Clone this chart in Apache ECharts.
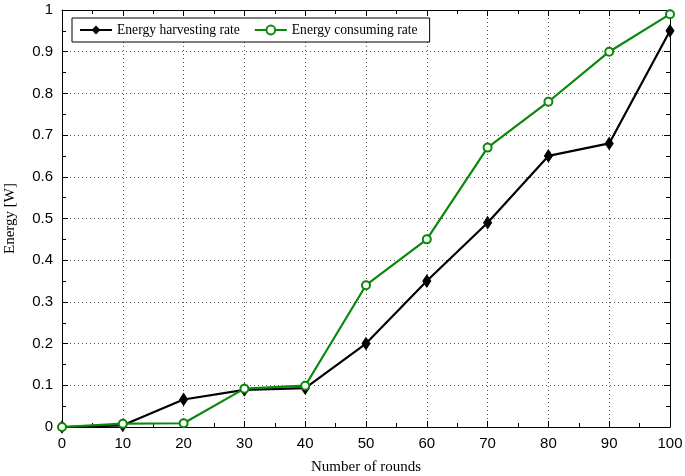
<!DOCTYPE html>
<html><head><meta charset="utf-8">
<script src="https://cdn.jsdelivr.net/npm/echarts@6/dist/echarts.min.js"></script>
<style>html,body{margin:0;padding:0;background:#fff}#c{width:685px;height:476px}</style>
</head><body><div id="c"></div>
<script>
const rounds = [0,10,20,30,40,50,60,70,80,90,100];
const harvesting = [0,0.004,0.066,0.089,0.093,0.2,0.35,0.49,0.65,0.68,0.95];
const consuming = [0,0.008,0.009,0.092,0.099,0.34,0.45,0.67,0.78,0.9,0.99];
const seriesNames = ['Energy harvesting rate','Energy consuming rate'];
const xTitle = 'Number of rounds';
const yTitle = 'Energy [W]';

const chart = echarts.init(document.getElementById('c'));
const lblFont = {fontFamily:'Liberation Sans', fontSize:15, color:'#000'};
const serif = 'Liberation Serif';
const axisCommon = {
  axisLine:{show:true,onZero:false,lineStyle:{color:'#000',width:1}},
  axisTick:{show:true,inside:true,length:6,lineStyle:{color:'#000'}},
  minorTick:{show:true,splitNumber:2,length:4,lineStyle:{color:'#000'}},
};
const green = '#0b870b';
chart.setOption({
  animation:false,
  grid:{left:62,right:15,top:10,bottom:49,show:false,containLabel:false,outerBoundsMode:'none'},
  legend:{
    left:72, top:18, orient:'horizontal',
    data:seriesNames,
    backgroundColor:'#fff', borderColor:'#000', borderWidth:1, borderRadius:0,
    padding:[5,12,5,7], itemGap:14, itemWidth:32, itemHeight:11,
    textStyle:{fontFamily:serif,fontSize:13.6,color:'#000'}
  },
  xAxis:[
    Object.assign({type:'value',min:0,max:100,interval:10,position:'bottom',
      name:xTitle,nameLocation:'middle',nameGap:33,
      nameTextStyle:{fontFamily:serif,fontSize:15,color:'#000'},
      axisLabel:Object.assign({margin:9},lblFont),
      splitLine:{show:true,lineStyle:{color:'#555',type:[1,3],width:1}}},axisCommon),
    Object.assign({type:'value',min:0,max:100,interval:10,position:'top',
      axisLabel:{show:false},splitLine:{show:false}},axisCommon)
  ],
  yAxis:[
    Object.assign({type:'value',min:0,max:1,interval:0.1,position:'left',
      name:yTitle,nameLocation:'middle',nameGap:44,
      nameTextStyle:{fontFamily:serif,fontSize:15,color:'#000'},
      axisLabel:Object.assign({margin:9},lblFont),
      splitLine:{show:true,lineStyle:{color:'#555',type:[1,3],width:1}}},axisCommon),
    Object.assign({type:'value',min:0,max:1,interval:0.1,position:'right',
      axisLabel:{show:false},splitLine:{show:false}},axisCommon)
  ],
  series:[
    {name:seriesNames[0],type:'line',data:rounds.map((r,i)=>[r,harvesting[i]]),
      symbol:'diamond',symbolSize:[8,12],showAllSymbol:true,
      lineStyle:{color:'#000',width:2.2},itemStyle:{color:'#000',borderColor:'#000'},z:3},
    {name:seriesNames[1],type:'line',data:rounds.map((r,i)=>[r,consuming[i]]),
      symbol:'circle',symbolSize:8,showAllSymbol:true,
      lineStyle:{color:green,width:2.2},itemStyle:{color:'#fff',borderColor:green,borderWidth:2},z:4}
  ]
});
</script></body></html>
